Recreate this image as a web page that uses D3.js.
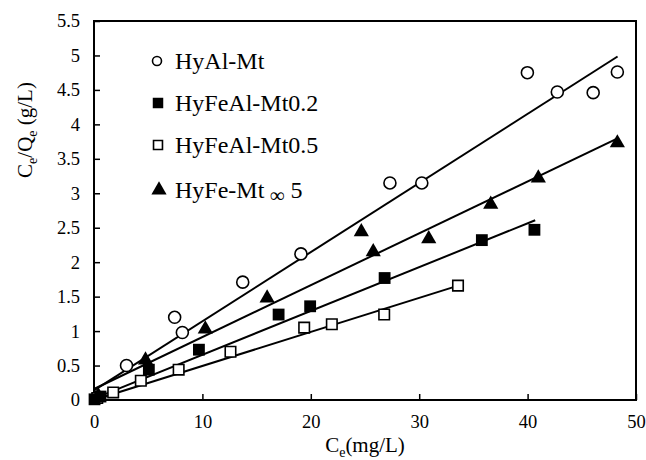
<!DOCTYPE html>
<html>
<head>
<meta charset="utf-8">
<script src="https://cdn.jsdelivr.net/npm/d3@7"></script>
<style>
body{margin:0;background:#fff;}
text{font-family:"Liberation Serif","Times New Roman",serif;fill:#000;}
</style>
</head>
<body>
<svg width="646" height="460"></svg>
<script>
// values
var alX = [0.3, 3.0, 7.44, 8.15, 13.72, 19.09, 27.3, 30.24, 39.98, 42.74, 46.05, 48.28];
var alY = [0.04, 0.50, 1.20, 0.98, 1.71, 2.12, 3.15, 3.15, 4.75, 4.47, 4.46, 4.76];

var fe2X = [0.05, 0.6, 5.06, 9.68, 17.03, 19.94, 26.81, 35.78, 40.63];
var fe2Y = [0.01, 0.05, 0.44, 0.73, 1.24, 1.36, 1.77, 2.32, 2.47];

var fe5X = [0.3, 1.77, 4.32, 7.81, 12.59, 19.39, 21.94, 26.77, 33.58];
var fe5Y = [0.03, 0.11, 0.28, 0.44, 0.70, 1.05, 1.10, 1.24, 1.66];

var feX = [0.4, 4.75, 10.27, 15.97, 24.66, 25.76, 30.88, 36.6, 40.99, 48.28];
var feY = [0.06, 0.58, 1.03, 1.48, 2.44, 2.15, 2.34, 2.84, 3.22, 3.73];

// trend lines: [intercept, slope, last x]
var alFit = [0.14, 0.1003, 48.3];
var fe2Fit = [0.02, 0.0636, 40.7];
var fe5Fit = [0.0, 0.0494, 33.6];
var feFit = [0.16, 0.0753, 48.3];

var xTicks = [0, 10, 20, 30, 40, 50];
var yTicks = [0, 0.5, 1, 1.5, 2, 2.5, 3, 3.5, 4, 4.5, 5, 5.5];
var legendNames = ["HyAl-Mt", "HyFeAl-Mt0.2", "HyFeAl-Mt0.5", "HyFe-Mt"];

var svg = d3.select("svg");
var x = d3.scaleLinear().domain([0, 50]).range([94, 636]);
var y = d3.scaleLinear().domain([0, 5.5]).range([400, 21]);

// axes, ticks inside
var gx = svg.append("g").attr("transform", "translate(0,400)")
    .call(d3.axisBottom(x).tickValues(xTicks).tickSize(-6).tickPadding(15).tickFormat(d => d));
var gy = svg.append("g").attr("transform", "translate(94,0)")
    .call(d3.axisLeft(y).tickValues(yTicks).tickSize(-6).tickPadding(14).tickFormat(d => d));
gx.attr("font-family", null).attr("font-size", null);
gy.attr("font-family", null).attr("font-size", null);
svg.selectAll(".domain").remove();
svg.selectAll(".tick line").attr("stroke", "#000").attr("stroke-width", 1.5);
svg.selectAll(".tick text").style("font-size", "18.5px");

svg.append("rect").attr("x", x(0)).attr("y", y(5.5))
    .attr("width", x(50) - x(0)).attr("height", y(0) - y(5.5))
    .attr("fill", "none").attr("stroke", "#000").attr("stroke-width", 2);

// axis titles
var xt = svg.append("text").attr("x", 365).attr("y", 452).attr("text-anchor", "middle").style("font-size", "21px");
xt.append("tspan").text("C");
xt.append("tspan").attr("dy", 5).style("font-size", "14px").text("e");
xt.append("tspan").attr("dy", -5).text("(mg/L)");

var yt = svg.append("text").attr("transform", "translate(32,130) rotate(-90)").attr("text-anchor", "middle").style("font-size", "21px");
yt.append("tspan").text("C");
yt.append("tspan").attr("dy", 5).style("font-size", "14px").text("e");
yt.append("tspan").attr("dy", -5).text("/Q");
yt.append("tspan").attr("dy", 5).style("font-size", "14px").text("e");
yt.append("tspan").attr("dy", -5).text(" (g/L)");

// trend lines
function fitLine(f){
    svg.append("line")
	.attr("x1", x(0)).attr("y1", y(f[0]))
	.attr("x2", x(f[2])).attr("y2", y(f[0] + f[1]*f[2]))
	.attr("stroke", "#000").attr("stroke-width", 2);
}
fitLine(alFit);
fitLine(feFit);
fitLine(fe2Fit);
fitLine(fe5Fit);

function pts(xs, ys){
    return xs.map((v, i) => [v, ys[i]]);
}

var square = d3.symbol().type(d3.symbolSquare).size(140);
var tri = d3.symbol().type(d3.symbolTriangle).size(100);

svg.append("g").selectAll("circle").data(pts(alX, alY)).enter().append("circle")
    .attr("cx", d => x(d[0])).attr("cy", d => y(d[1])).attr("r", 6)
    .attr("fill", "#fff").attr("stroke", "#000").attr("stroke-width", 1.6);

svg.append("g").selectAll("path").data(pts(fe5X, fe5Y)).enter().append("path")
    .attr("d", d3.symbol().type(d3.symbolSquare).size(110))
    .attr("transform", d => "translate(" + x(d[0]) + "," + y(d[1]) + ")")
    .attr("fill", "#fff").attr("stroke", "#000").attr("stroke-width", 1.6);

svg.append("g").selectAll("path").data(pts(feX, feY)).enter().append("path")
    .attr("d", tri)
    .attr("transform", d => "translate(" + x(d[0]) + "," + y(d[1]) + ")")
    .attr("fill", "#000");

svg.append("g").selectAll("path").data(pts(fe2X, fe2Y)).enter().append("path")
    .attr("d", square)
    .attr("transform", d => "translate(" + x(d[0]) + "," + y(d[1]) + ")")
    .attr("fill", "#000");

// legend
var legY = [61, 103, 145, 190];
svg.append("circle").attr("cx", 157).attr("cy", legY[0]).attr("r", 4.5)
    .attr("fill", "#fff").attr("stroke", "#000").attr("stroke-width", 1.6);
svg.append("path").attr("d", d3.symbol().type(d3.symbolSquare).size(110))
    .attr("transform", "translate(158," + legY[1] + ")").attr("fill", "#000");
svg.append("path").attr("d", d3.symbol().type(d3.symbolSquare).size(80))
    .attr("transform", "translate(158," + legY[2] + ")")
    .attr("fill", "#fff").attr("stroke", "#000").attr("stroke-width", 1.6);
svg.append("path").attr("d", tri)
    .attr("transform", "translate(159," + legY[3] + ")").attr("fill", "#000");

legendNames.forEach(function(n, i){
    var t = svg.append("text").attr("x", 175).attr("y", legY[i] + 8).style("font-size", "24px").text(n);
    if(i == 3){
	t.append("tspan").attr("dx", 6).attr("dy", 4).style("font-size", "20px").style("font-weight", "bold").text("\u221e");
	t.append("tspan").attr("dx", 6).attr("dy", -4).text("5");
    }
});
</script>
</body>
</html>
